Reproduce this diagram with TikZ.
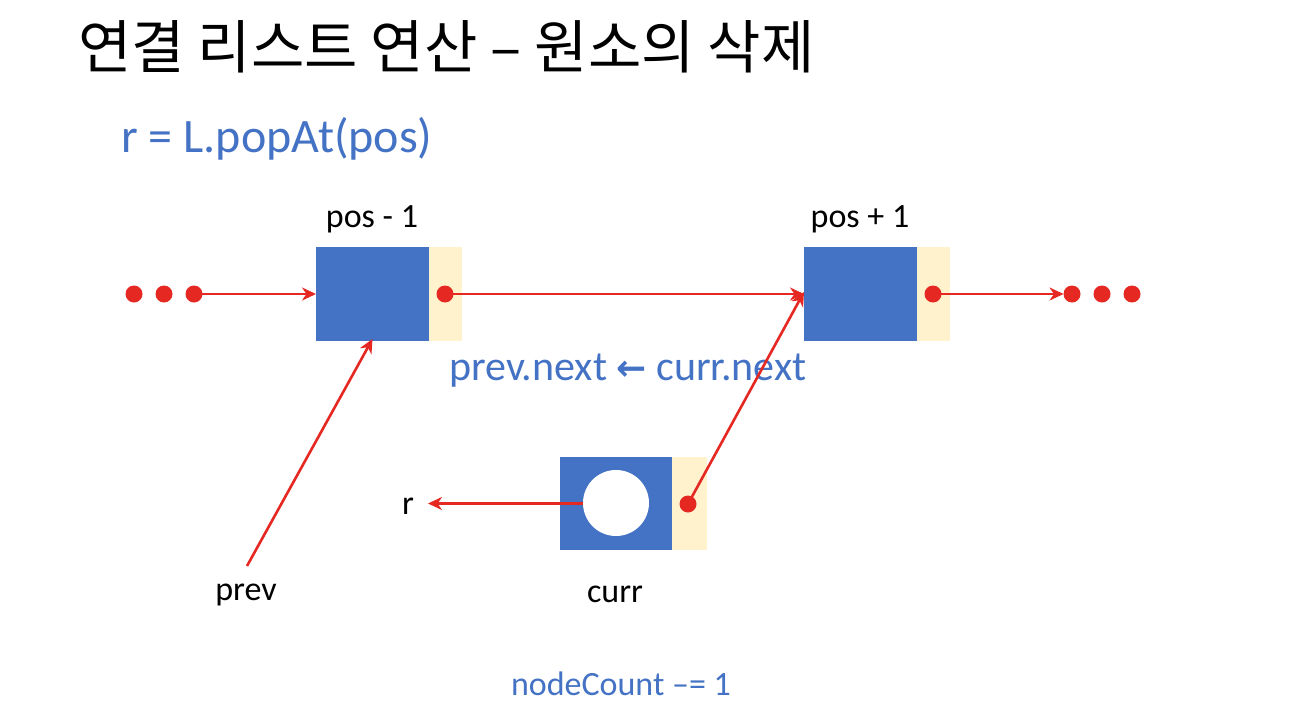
\documentclass[tikz,border=0pt]{standalone}
\usepackage{fontspec}
\setmainfont{Carlito}
\newfontfamily\krfont{Noto Sans CJK KR}
\newfontfamily\symfont{DejaVu Sans}
\usetikzlibrary{arrows.meta}
\definecolor{nblue}{RGB}{68,114,196}
\definecolor{nyellow}{RGB}{255,242,204}
\definecolor{nred}{RGB}{230,40,35}
\tikzset{
  x=1pt, y=-1pt,
  datafld/.style={fill=nblue, draw=none, minimum width=113pt, minimum height=94pt, inner sep=0pt, outer sep=0pt},
  linkfld/.style={fill=nyellow, draw=none, minimum width=33pt, minimum height=94pt, inner sep=0pt, outer sep=0pt},
  rdot/.style={circle, fill=nred, draw=none, minimum size=17pt, inner sep=0pt, outer sep=0pt},
  ptr/.style={draw=nred, line width=2.6pt, -{Stealth[length=14pt, width=13pt, inset=4.5pt]}},
  lbl/.style={font=\fontsize{34}{40}\selectfont, text=black, inner sep=0pt},
  bluelbl/.style={text=nblue, inner sep=0pt},
}
\begin{document}
\begin{tikzpicture}
\useasboundingbox (0,0) rectangle (1302,712);
\fill[white] (0,0) rectangle (1302,712);
% title
\node[anchor=west, inner sep=0pt, font=\krfont\fontsize{58}{66}\selectfont] (title) at (78,47) {연결 리스트 연산 – 원소의 삭제};
\node[anchor=west, bluelbl, font=\fontsize{48}{56}\selectfont] (call) at (121,139) {r = L.popAt(pos)};
% node pos-1
\node[datafld] (b1) at (372.5,294) {};
\node[linkfld] (y1) at (445.5,294) {};
\node[lbl] (l1) at (372,219) {pos - 1};
% node pos+1
\node[datafld] (b2) at (860.5,294) {};
\node[linkfld] (y2) at (933.5,294) {};
\node[lbl] (l2) at (860,219) {pos + 1};
% curr node
\node[datafld, minimum width=112pt, minimum height=93pt] (b3) at (616,503.5) {};
\node[linkfld, minimum width=35pt, minimum height=93pt] (y3) at (689.5,503.5) {};
% labels
\node[lbl] (rl) at (408,506) {r};
\node[lbl] (prev) at (246,595) {prev};
\node[lbl] (curr) at (615,594) {curr};
\node[bluelbl, font=\fontsize{42}{48}\selectfont] (assign) at (628,371) {prev.next {\symfont\bfseries\fontsize{36}{44}\selectfont ←} curr.next};
\node[bluelbl, font=\fontsize{34}{40}\selectfont] (cnt) at (621,684) {nodeCount –= 1};
\coordinate (pvstart) at (247,566);
\coordinate (rend) at (428,503.5);
% pointers (drawn beneath the dots)
\node[rdot] (ld1) at (134,294) {};
\node[rdot] (ld2) at (164,294) {};
\node[rdot] (rd1) at (1072,294) {};
\node[rdot] (rd2) at (1102,294) {};
\node[rdot] (rd3) at (1132,294) {};
\coordinate (ld3c) at (194,294);
\coordinate (d1c) at (445,294);
\coordinate (d2c) at (933,294);
\coordinate (d3c) at (688,504);
\draw[ptr] (ld3c) -- (b1.west);
\draw[ptr] (d1c) -- (b2.west);
\draw[ptr] (d2c) -- (rd1.west);
\draw[ptr] (d3c) -- ([yshift=2pt]b2.west);
\draw[ptr] (b3.center) -- (rend);
\draw[ptr] (pvstart) -- ([yshift=2pt]b1.south);
% white circle and dots on top
\node[circle, fill=white, minimum size=66pt, inner sep=0pt] (circ) at (616,503) {};
\node[rdot] (ld3) at (ld3c) {};
\node[rdot] (d1) at (d1c) {};
\node[rdot] (d2) at (d2c) {};
\node[rdot] (d3) at (d3c) {};
\end{tikzpicture}
\end{document}
